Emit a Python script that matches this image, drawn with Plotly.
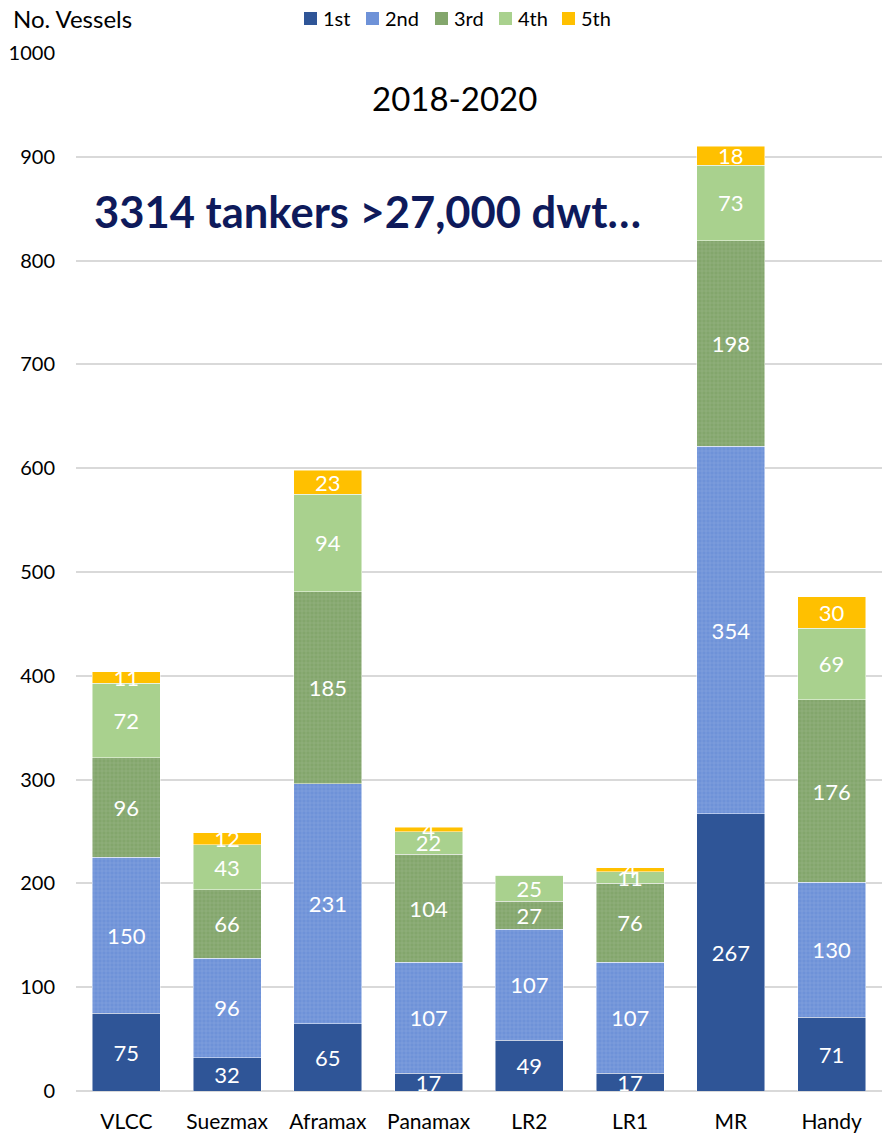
import plotly.graph_objects as go

# Tanker fleet by class, counts per delivery segment
classes = ["VLCC", "Suezmax", "Aframax", "Panamax", "LR2", "LR1", "MR", "Handy"]
seg_names = ["1st", "2nd", "3rd", "4th", "5th"]
first = [75, 32, 65, 17, 49, 17, 267, 71]
second = [150, 96, 231, 107, 107, 107, 354, 130]
third = [96, 66, 185, 104, 27, 76, 198, 176]
fourth = [72, 43, 94, 22, 25, 11, 73, 69]
fifth = [11, 12, 23, 4, 0, 4, 18, 30]
y_ticks = [0, 100, 200, 300, 400, 500, 600, 700, 800, 900, 1000]

series = [first, second, third, fourth, fifth]
colors = ["#2F5597", "#6E92D8", "#83A66C", "#A9D18E", "#FFC000"]
patterned = [False, True, True, False, False]

FONT = "Lato, Open Sans, sans-serif"
W, H = 882, 1135
L, R, T, B = 76, 0, 53, 44
pw, ph = W - L - R, H - T - B


def px_x(x):
    return (x - L) / pw


def px_y(y):
    return (H - B - y) / ph


fig = go.Figure()
for name, vals, col, pat in zip(seg_names, series, colors, patterned):
    marker = dict(color=col, line=dict(color="rgba(255,255,255,0.6)", width=0.8))
    if pat:
        marker["pattern"] = dict(shape="+", size=4, solidity=0.25,
                                 fgcolor="rgba(255,255,255,0.35)")
    fig.add_trace(go.Bar(
        name=name, x=classes, y=vals, marker=marker,
        text=[str(v) for v in vals], textposition="inside",
        insidetextanchor="middle", textangle=0,
        textfont=dict(color="white", size=22, family=FONT),
        hoverinfo="skip", showlegend=False,
    ))

fig.update_layout(
    barmode="stack", bargap=0.325,
    width=W, height=H,
    margin=dict(l=L, r=R, t=T, b=B),
    plot_bgcolor="white", paper_bgcolor="white",
    font=dict(family=FONT, size=20, color="#000000"),
    uniformtext=dict(minsize=22, mode="show"),
    showlegend=False,
)
fig.update_xaxes(range=[-0.5, 7.5], showgrid=False, showline=False,
                 ticks="", tickfont=dict(size=21), ticklabelstandoff=16)
fig.update_yaxes(range=[0, 1000], tickvals=y_ticks, showgrid=True,
                 gridcolor="#D9D9D9", gridwidth=1.5, zeroline=True,
                 zerolinecolor="#D9D9D9", zerolinewidth=1.5, showline=False,
                 ticks="", tickfont=dict(size=20), ticklabelstandoff=20)

# Compact legend row along the top edge
legend_sq_x = [304, 366, 435, 499, 562]
for name, col, sx in zip(seg_names, colors, legend_sq_x):
    fig.add_shape(type="rect", xref="paper", yref="paper",
                  x0=px_x(sx), x1=px_x(sx + 13), y0=px_y(25), y1=px_y(12),
                  fillcolor=col, line=dict(width=0))
    fig.add_annotation(text=name, xref="paper", yref="paper",
                       x=px_x(sx + 17), y=px_y(18), xanchor="left", yanchor="middle",
                       showarrow=False, font=dict(size=20, color="#000"))

fig.add_annotation(text="No. Vessels", xref="paper", yref="paper",
                   x=px_x(11), y=px_y(18), xanchor="left", yanchor="middle",
                   showarrow=False, font=dict(size=24, color="#000"))
fig.add_annotation(text="2018-2020", xref="paper", yref="paper",
                   x=px_x(454), y=px_y(98), xanchor="center", yanchor="middle",
                   showarrow=False, font=dict(size=33, color="#000"))
fig.add_annotation(text="<b>3314 tankers >27,000 dwt…</b>", xref="paper", yref="paper",
                   x=px_x(92), y=px_y(211), xanchor="left", yanchor="middle",
                   showarrow=False, font=dict(size=43.5, color="#0E1A5B"))

fig.write_html("out.html")
